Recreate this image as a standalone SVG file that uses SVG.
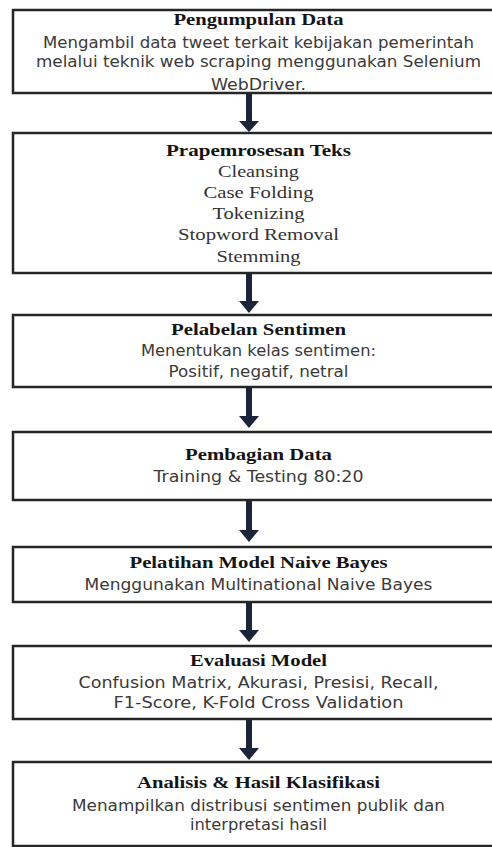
<svg xmlns="http://www.w3.org/2000/svg" width="492" height="847" viewBox="0 0 492 847">
<defs>
<style>
.box{fill:#fff;stroke:#262626;stroke-width:2.5}
.t{font-family:"Liberation Serif","Times New Roman",serif;font-weight:bold;font-size:16px;fill:#141414;text-anchor:middle}
.b{font-family:"DejaVu Sans","Liberation Sans",sans-serif;font-size:15px;fill:#3a3a3a;text-anchor:middle}
.s{font-family:"Liberation Serif","Times New Roman",serif;font-size:16px;fill:#333;text-anchor:middle}
.shaft{stroke:#1b2438;stroke-width:6;fill:none}
.head{fill:#1b2438}
</style>
</defs>
<rect width="492" height="847" fill="#fff"/>
<g id="connectors">
<line class="shaft" x1="249" y1="94" x2="249" y2="122"/><polygon class="head" points="239,121 259,121 249,132"/>
<line class="shaft" x1="249" y1="274" x2="249" y2="302"/><polygon class="head" points="239,301 259,301 249,313"/>
<line class="shaft" x1="249" y1="388" x2="249" y2="417"/><polygon class="head" points="239,416 259,416 249,428"/>
<line class="shaft" x1="249" y1="501" x2="249" y2="531"/><polygon class="head" points="239,530 259,530 249,542"/>
<line class="shaft" x1="249" y1="603" x2="249" y2="631"/><polygon class="head" points="239,630 259,630 249,642"/>
<line class="shaft" x1="249" y1="720" x2="249" y2="749"/><polygon class="head" points="239,748 259,748 249,760"/>
</g>
<g id="node1">
<rect class="box" x="13" y="10" width="491" height="83"/>
<text class="t" x="258.5" y="25" textLength="170" lengthAdjust="spacingAndGlyphs">Pengumpulan Data</text>
<text class="b" x="258.5" y="48" textLength="431" lengthAdjust="spacingAndGlyphs">Mengambil data tweet terkait kebijakan pemerintah</text>
<text class="b" x="258.5" y="67" textLength="445" lengthAdjust="spacingAndGlyphs">melalui teknik web scraping menggunakan Selenium</text>
<text class="b" x="258.5" y="90" textLength="95" lengthAdjust="spacingAndGlyphs">WebDriver.</text>
</g>
<g id="node2">
<rect class="box" x="13" y="133" width="491" height="140"/>
<text class="t" x="258.5" y="156" textLength="185" lengthAdjust="spacingAndGlyphs">Prapemrosesan Teks</text>
<text class="s" x="258.5" y="177" textLength="81" lengthAdjust="spacingAndGlyphs">Cleansing</text>
<text class="s" x="258.5" y="198" textLength="110" lengthAdjust="spacingAndGlyphs">Case Folding</text>
<text class="s" x="258.5" y="219" textLength="92" lengthAdjust="spacingAndGlyphs">Tokenizing</text>
<text class="s" x="258.5" y="240" textLength="161" lengthAdjust="spacingAndGlyphs">Stopword Removal</text>
<text class="s" x="258.5" y="262" textLength="84" lengthAdjust="spacingAndGlyphs">Stemming</text>
</g>
<g id="node3">
<rect class="box" x="13" y="315" width="491" height="72"/>
<text class="t" x="258.5" y="335" textLength="175" lengthAdjust="spacingAndGlyphs">Pelabelan Sentimen</text>
<text class="b" x="258.5" y="356" textLength="235" lengthAdjust="spacingAndGlyphs">Menentukan kelas sentimen:</text>
<text class="b" x="258.5" y="377" textLength="180" lengthAdjust="spacingAndGlyphs">Positif, negatif, netral</text>
</g>
<g id="node4">
<rect class="box" x="13" y="432" width="491" height="68"/>
<text class="t" x="258.5" y="460" textLength="147" lengthAdjust="spacingAndGlyphs">Pembagian Data</text>
<text class="b" x="258.5" y="482" textLength="210" lengthAdjust="spacingAndGlyphs">Training &amp; Testing 80:20</text>
</g>
<g id="node5">
<rect class="box" x="13" y="547" width="491" height="55"/>
<text class="t" x="258.5" y="568" textLength="258" lengthAdjust="spacingAndGlyphs">Pelatihan Model Naive Bayes</text>
<text class="b" x="258.5" y="590" textLength="348" lengthAdjust="spacingAndGlyphs">Menggunakan Multinational Naive Bayes</text>
</g>
<g id="node6">
<rect class="box" x="13" y="646" width="491" height="73"/>
<text class="t" x="258.5" y="666" textLength="137" lengthAdjust="spacingAndGlyphs">Evaluasi Model</text>
<text class="b" x="258.5" y="688" textLength="360" lengthAdjust="spacingAndGlyphs">Confusion Matrix, Akurasi, Presisi, Recall,</text>
<text class="b" x="258.5" y="708" textLength="290" lengthAdjust="spacingAndGlyphs">F1-Score, K-Fold Cross Validation</text>
</g>
<g id="node7">
<rect class="box" x="13" y="762" width="491" height="84"/>
<text class="t" x="258.5" y="788" textLength="243" lengthAdjust="spacingAndGlyphs">Analisis &amp; Hasil Klasifikasi</text>
<text class="b" x="258.5" y="811" textLength="373" lengthAdjust="spacingAndGlyphs">Menampilkan distribusi sentimen publik dan</text>
<text class="b" x="258.5" y="830" textLength="137" lengthAdjust="spacingAndGlyphs">interpretasi hasil</text>
</g>
</svg>
